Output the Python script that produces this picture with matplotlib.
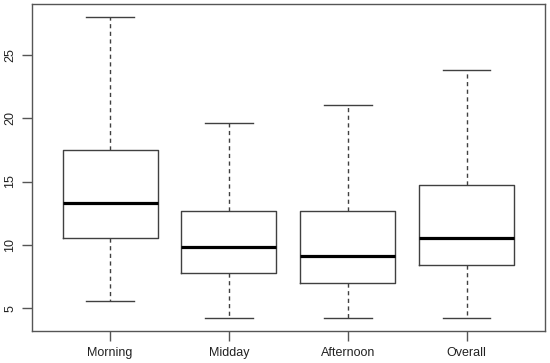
import matplotlib
matplotlib.use("Agg")
import matplotlib.pyplot as plt

plt.rcParams['font.family'] = ['Liberation Sans', 'DejaVu Sans']

labels = ["Morning", "Midday", "Afternoon", "Overall"]
whislo = [5.6, 4.2, 4.2, 4.2]
q1 = [10.55, 7.8, 7.0, 8.4]
med = [13.3, 9.8, 9.1, 10.55]
q3 = [17.5, 12.65, 12.65, 14.75]
whishi = [28.0, 19.65, 21.0, 23.8]
yticks = [5, 10, 15, 20, 25]

stats = []
for i in range(len(labels)):
    stats.append(dict(label=labels[i], whislo=whislo[i], q1=q1[i], med=med[i],
                      q3=q3[i], whishi=whishi[i], fliers=[]))

fig = plt.figure(figsize=(5.5, 3.63), dpi=100)
ax = fig.add_axes([0.0576, 0.0895, 0.9334, 0.8995])

lc = '#404040'
ax.bxp(stats, positions=range(1, 5), widths=0.8, showfliers=False,
       boxprops=dict(color=lc, linewidth=1.0),
       medianprops=dict(color='black', linewidth=2.3, solid_capstyle='butt'),
       whiskerprops=dict(color=lc, linewidth=1.0, linestyle=(0, (3, 2.5))),
       capprops=dict(color=lc, linewidth=1.0), capwidths=0.4)

ax.set_xlim(0.5 - 0.16, 4.5 + 0.16)
ax.set_ylim(3.25, 29.0)
ax.set_yticks(yticks)
ax.set_yticklabels([str(t) for t in yticks], rotation=90, va='center')
for s in ax.spines.values():
    s.set_color('#555555')
    s.set_linewidth(1.0)
ax.tick_params(colors='#555555', length=7, width=1.0, labelcolor='#222222', labelsize=9)
ax.tick_params(axis='x', pad=5)
ax.tick_params(axis='y', pad=4)

fig.savefig("out.png", dpi=100)
